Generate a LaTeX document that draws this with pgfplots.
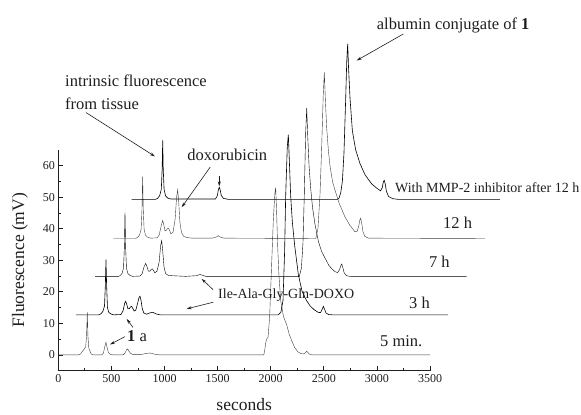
\documentclass[border=0pt]{standalone}
\usepackage{fontspec}
\setmainfont{Liberation Serif}
\usepackage{pgfplots}
\pgfplotsset{compat=1.18}
\usetikzlibrary{arrows.meta}
\definecolor{trace}{HTML}{3C3C3C}
\definecolor{ink}{HTML}{1E1E1E}

\begin{document}
\begin{tikzpicture}[
  pointer/.style={ink, line width=0.6pt, -{Stealth[length=5pt,width=3pt]}},
  lab/.style={anchor=west, text=ink, inner sep=0pt, font=\fontsize{16.5}{16.5}\selectfont}]
\begin{axis}[scale only axis, width=371.7pt, height=220.9pt,
  xmin=0, xmax=3500, ymin=-5, ymax=65, clip=false,
  axis x line*=bottom, axis y line*=left,
  axis line style={ink, line width=1pt},
  xtick={0,500,...,3500}, ytick={0,10,...,60},
  minor x tick num=1, minor y tick num=1,
  tick align=inside, major tick length=5pt, minor tick length=3pt,
  tick style={ink, line width=0.8pt},
  xticklabel={\pgfmathparse{int(round(\tick))}\pgfmathresult},
  yticklabel={\pgfmathparse{int(round(\tick))}\pgfmathresult},
  tick label style={font=\fontsize{12}{12}\selectfont, text=ink},
  xlabel={seconds}, ylabel={Fluorescence (mV)},
  label style={font=\fontsize{17.5}{17.5}\selectfont, text=ink},
  xlabel style={at={(axis description cs:0.5,-0.154)}, anchor=center},
  ylabel style={at={(axis description cs:-0.103,0.5)}, anchor=center},
  cycle list={{trace, line width=0.6pt, mark=none}}]

% 5 min
\addplot coordinates {(0,0)(190,0)(210,0.3)(228,1.2)(245,1.9)(258,2.6)(266,6)(273,13.5)(279,6)(287,2.2)(298,1.2)(310,0.3)(330,0)
 (410,0)(425,0.6)(438,2.6)(449,4.0)(458,2.6)(470,0.9)(488,0.2)(520,0)(610,0)(628,0.6)(643,1.6)(653,1.9)(663,1.3)(680,0.5)(705,0.1)
 (780,0.1)(830,0.5)(870,0.6)(910,0.2)(960,0)(1935,0)(1945,1.8)(1955,4.2)(1965,5.2)(1975,5.6)(1990,12)(2008,28)(2025,43)(2040,51.5)
 (2047,53)(2055,46)(2065,35)(2078,25)(2095,17)(2120,12.2)(2150,9.6)(2175,6.5)(2198,4.5)(2225,2.4)(2255,1.0)(2285,0.4)(2310,0.3)
 (2325,0.6)(2337,1.1)(2348,0.9)(2362,0.3)(2390,0)(3500,0)};
% 3 h
\addplot coordinates {(166,12.7)(380,12.7)(400,13.0)(420,13.8)(435,15.5)(443,22)(449,30.2)(455,22)(463,15)(475,13.5)(495,13.0)(520,12.7)
 (590,12.8)(610,14)(625,16.4)(634,17.0)(643,16.2)(655,14.7)(667,14.6)(680,15.2)(690,15.4)(700,14.8)(715,13.9)(730,14.2)(748,16.5)
 (760,18.2)(769,18.6)(778,17.5)(790,14.8)(805,13.3)(830,12.9)(860,13.3)(890,13.5)(920,13.0)(960,12.7)(2070,12.7)(2096,13.5)
 (2116,17.3)(2131,32.7)(2141,50.4)(2156,65.8)(2166,69.8)(2176,61.2)(2188,50.4)(2204,42.0)(2226,34.6)(2261,25.3)(2296,20.1)
 (2336,17.3)(2370,15.6)(2406,14.4)(2446,13.5)(2470,13.4)(2485,14.5)(2496,15.4)(2507,14.5)(2520,13.3)(2545,12.8)(2580,12.7)(3670,12.7)};
% 7 h
\addplot coordinates {(346,24.8)(560,24.8)(580,25.1)(600,25.8)(614,27.5)(622,34)(628,45.2)(634,34)(642,27.5)(655,25.8)(675,25.2)(700,24.9)
 (770,25.0)(790,25.8)(808,28.0)(823,29.0)(835,28.0)(848,26.6)(862,26.5)(875,27.1)(885,27.3)(895,26.8)(910,26.0)(930,26.6)(950,29.5)
 (963,34.5)(973,36.2)(982,33.5)(995,28.0)(1010,25.8)(1035,25.2)(1070,25.1)(1200,24.9)(1300,25.1)(1336,25.5)(1370,25.1)(1400,24.8)
 (2269,24.8)(2289,27.5)(2304,35.5)(2316,50.4)(2329,70.2)(2339,78.2)(2349,69.1)(2361,60.0)(2377,52.6)(2394,46.7)(2417,41.4)(2449,36.0)
 (2479,32.8)(2511,30.7)(2549,28.3)(2579,27.2)(2605,26.4)(2630,26.1)(2648,27.0)(2660,28.3)(2669,28.8)(2678,27.8)(2692,26.0)(2715,25.1)
 (2760,24.8)(3845,24.8)};
% 12 h
\addplot coordinates {(518,36.9)(725,36.9)(745,37.2)(765,38.0)(780,39.8)(788,46)(794,56.5)(800,46)(808,39.8)(820,38.0)(840,37.3)(870,37.0)
 (930,37.1)(950,38.0)(968,40.8)(983,42.6)(994,41.2)(1005,39.3)(1018,39.5)(1028,40.1)(1036,40.2)(1046,39.6)(1060,38.4)(1080,38.8)
 (1100,43)(1114,50)(1124,52.3)(1133,49)(1145,42)(1160,38.8)(1180,37.6)(1210,37.2)(1260,37.0)(1450,37.0)(1490,37.4)(1505,37.8)
 (1520,37.4)(1560,37.0)(2425,36.9)(2445,40.1)(2464,50.6)(2480,65.8)(2495,82.7)(2505,89.5)(2515,80.6)(2527,72.1)(2543,64.8)(2560,59.5)
 (2583,54.8)(2606,52.2)(2645,48.0)(2700,43.7)(2745,41.1)(2794,39.0)(2815,39.2)(2830,41.0)(2840,42.8)(2847,43.3)(2856,42.0)(2868,39.2)
 (2885,37.6)(2920,37.0)(4018,36.9)};
% with MMP-2 inhibitor after 12 h
\addplot coordinates {(691,49.3)(915,49.3)(935,49.6)(955,50.5)(970,52.5)(978,59)(983,68.0)(988,59)(996,52.5)(1010,50.4)(1030,49.7)
 (1060,49.4)(1480,49.4)(1498,50.5)(1508,52.5)(1516,53.1)(1524,52.3)(1535,50.5)(1555,49.6)(1600,49.3)(2630,49.3)(2645,49.8)(2660,51.5)
 (2675,55)(2690,64)(2705,80)(2716,93)(2725,98.6)(2733,91)(2747,81.3)(2769,71.0)(2800,65.0)(2841,60.6)(2890,57.0)(2951,54.2)(3000,52.8)
 (3035,52.0)(3050,53.0)(3062,55.0)(3070,55.3)(3078,54.2)(3090,51.8)(3110,50.2)(3150,49.5)(3200,49.3)(4159,49.3)};

% annotations
\draw[pointer] (axis cs:3249,101.7) -- (axis cs:2810,93.3);
\node[lab] at (axis cs:2998,104.4) {albumin conjugate of \textbf{1}};
\node[lab, align=left, font=\fontsize{16.5}{22.7}\selectfont] at (axis cs:63,83.3) {intrinsic fluorescence\\from tissue};
\draw[pointer] (axis cs:261,76.8) -- (axis cs:910,62.9);
\node[lab] at (axis cs:1214,63.5) {doxorubicin};
\draw[pointer] (axis cs:1430,59.5) -- (axis cs:1162,46.8);
\draw[pointer] (axis cs:1516,56.8) -- (axis cs:1516,53.4);
\node[lab, font=\fontsize{14}{14}\selectfont] at (axis cs:1504,18.8) {Ile-Ala-Gly-Gln-DOXO};
\draw[pointer] (axis cs:1457,20.7) -- (axis cs:1350,24.1);
\draw[pointer] (axis cs:1460,16.7) -- (axis cs:1209,14.6);
\node[lab] at (axis cs:647,6.1) {\textbf{1} a};
\draw[pointer] (axis cs:628,5.8) -- (axis cs:487,3.3);
\draw[pointer] (axis cs:703,8.7) -- (axis cs:644,11.4);
\node[lab, font=\fontsize{14}{14}\selectfont] at (axis cs:3170,53.0) {With MMP-2 inhibitor after 12 h};
\node[lab] at (axis cs:3622,41.8) {12 h};
\node[lab] at (axis cs:3490,29.4) {7 h};
\node[lab] at (axis cs:3302,16.4) {3 h};
\node[lab] at (axis cs:3029,4.5) {5 min.};
\coordinate (O) at (rel axis cs:0,0);
\end{axis}
\pgfresetboundingbox
\path (O) ++(-58.3pt,-44.3pt) rectangle ++(581pt,415pt);
\end{tikzpicture}
\end{document}
